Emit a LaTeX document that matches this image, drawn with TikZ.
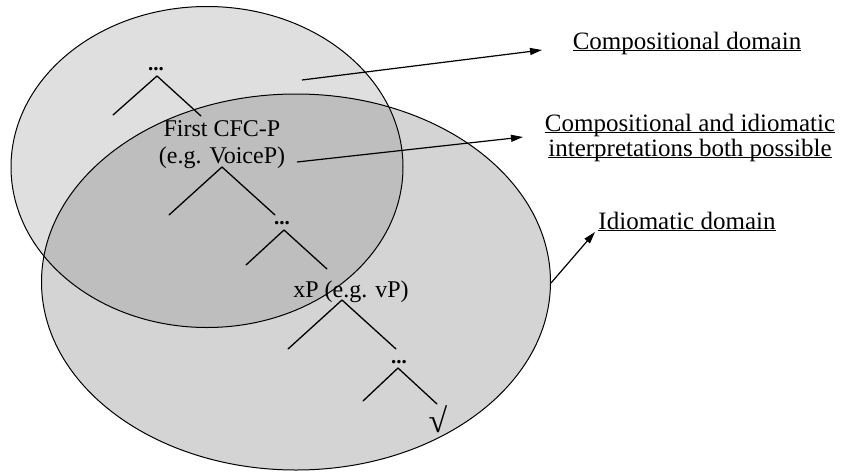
\documentclass[tikz,border=0pt]{standalone}
\usepackage{fontspec}
\setmainfont{Liberation Serif}
\usetikzlibrary{arrows.meta}
\definecolor{upperfill}{gray}{0.875}
\definecolor{lowerfill}{gray}{0.83}
\definecolor{bothfill}{gray}{0.745}
% underline sitting just under the baseline, through descenders
\newcommand\ulword[1]{\setbox0\hbox{#1}\rlap{\rule[-2.4pt]{\wd0}{1.1pt}}\box0}
\begin{document}
\begin{tikzpicture}[x=1pt,y=-1pt,
  domainline/.style={line width=1pt,draw=black},
  branch/.style={line width=1.3pt,line cap=round},
  pointer/.style={line width=1.2pt,-{Triangle[length=12pt,width=7pt]}},
  treelabel/.style={font=\fontsize{24}{27}\selectfont,align=center,inner sep=0pt,anchor=base},
  dotsnode/.style={font=\fontsize{21}{21}\selectfont\bfseries,inner sep=0pt,anchor=base},
  domainlabel/.style={font=\fontsize{25}{25}\selectfont,align=center,inner sep=0pt,anchor=base}]
\useasboundingbox (0,0) rectangle (844,472);

% the two domains and their overlap
\fill[upperfill] (207,167) ellipse [x radius=196, y radius=160.5];
\fill[lowerfill] (296,282) ellipse [x radius=254.5, y radius=188];
\begin{scope}
  \clip (207,167) ellipse [x radius=196, y radius=160.5];
  \fill[bothfill] (296,282) ellipse [x radius=254.5, y radius=188];
\end{scope}
\draw[domainline] (207,167) ellipse [x radius=196, y radius=160.5];
\draw[domainline] (296,282) ellipse [x radius=254.5, y radius=188];

% tree
\node[dotsnode] (top) at (156,70) {...};
\coordinate (topA) at (157,76);
\coordinate (topL) at (113,115);
\coordinate (topR) at (201,116);
\draw[branch] (topA) -- (topL);
\draw[branch] (topA) -- (topR);

\node[treelabel] (cfc) at (222,163) {First CFC-P\\(e.g. VoiceP)};
\coordinate (cfcA) at (222,167);
\coordinate (cfcL) at (169,215);
\coordinate (cfcR) at (275,215);
\draw[branch] (cfcA) -- (cfcL);
\draw[branch] (cfcA) -- (cfcR);

\node[dotsnode] (mid) at (282,224) {...};
\coordinate (midA) at (284,230);
\coordinate (midL) at (246,265);
\coordinate (midR) at (327,269);
\draw[branch] (midA) -- (midL);
\draw[branch] (midA) -- (midR);

\node[treelabel] (xp) at (351,297) {xP (e.g. vP)};
\coordinate (xpA) at (342,300);
\coordinate (xpL) at (288,349);
\coordinate (xpR) at (396,349);
\draw[branch] (xpA) -- (xpL);
\draw[branch] (xpA) -- (xpR);

\node[dotsnode] (low) at (399,363) {...};
\coordinate (lowA) at (398,368);
\coordinate (lowL) at (363,401);
\coordinate (lowR) at (437,404);
\draw[branch] (lowA) -- (lowL);
\draw[branch] (lowA) -- (lowR);

\node[font=\fontsize{34}{34}\selectfont,inner sep=0pt] (root) at (438,419) {√};

% labels and pointers
\node[domainlabel] (comp) at (687,49) {\ulword{Compositional domain}};
\node[domainlabel] (both) at (690,156) {\ulword{Compositional and idiomatic}\\\ulword{interpretations both possible}};
\node[domainlabel] (idio) at (687,229) {\ulword{Idiomatic domain}};

\coordinate (compS) at (302,80);
\coordinate (compE) at (542,50);
\coordinate (bothS) at (297,162);
\coordinate (bothE) at (523,137);
\coordinate (idioS) at (551,283);
\coordinate (idioE) at (595,232);
\draw[pointer] (compS) -- (compE);
\draw[pointer] (bothS) -- (bothE);
\draw[pointer] (idioS) -- (idioE);
\end{tikzpicture}
\end{document}
